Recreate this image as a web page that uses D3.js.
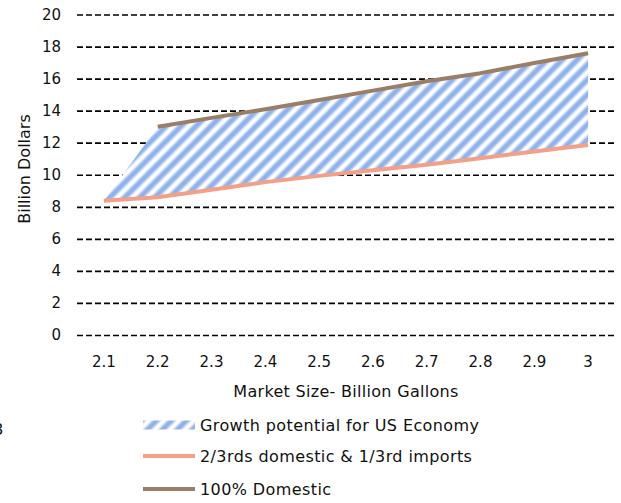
<!DOCTYPE html>
<html>
<head>
<meta charset="utf-8">
<script src="https://cdn.jsdelivr.net/npm/d3@7"></script>
<style>
  body { margin: 0; background: #fff; }
  svg text { font-family: "DejaVu Sans", Verdana, sans-serif; fill: #111; }
</style>
</head>
<body>
<svg id="chart" width="621" height="503"></svg>
<script>
// Market size in billion gallons (category axis)
const categories = ["2.1", "2.2", "2.3", "2.4", "2.5", "2.6", "2.7", "2.8", "2.9", "3"];
// Billion dollars, 2/3 domestic + 1/3 imported supply
const importMix = [8.38, 8.59, 9.07, 9.54, 9.93, 10.28, 10.63, 11.03, 11.45, 11.86];
// Billion dollars, all-domestic supply (no value at 2.1)
const domestic = [null, 13.0, 13.55, 14.09, 14.67, 15.25, 15.83, 16.34, 16.97, 17.58];
const yTicks = [0, 2, 4, 6, 8, 10, 12, 14, 16, 18, 20];
const seriesNames = ["Growth potential for US Economy", "2/3rds domestic & 1/3rd imports", "100% Domestic"];
const xTitle = "Market Size- Billion Gallons";
const yTitle = "Billion Dollars";

const colors = { hatch: "#8fb2ea", mix: "#f4a088", domestic: "#9b7e68" };

const svg = d3.select("#chart");
const plot = { left: 77, right: 615, top: 14.5, bottom: 335 };

const x = d3.scaleBand().domain(categories).range([plot.left, plot.right]);
const y = d3.scaleLinear().domain([0, 20]).range([plot.bottom, plot.top]);
const cx = c => x(c) + x.bandwidth() / 2;

// Diagonal hatch: soft-edged blue stripes on white
const defs = svg.append("defs");
const grad = defs.append("linearGradient").attr("id", "stripeGrad")
  .attr("x1", 0).attr("x2", 1).attr("y1", 0).attr("y2", 0);
[[0, "#ffffff"], [0.1, "#ffffff"], [0.36, colors.hatch], [0.62, colors.hatch], [0.9, "#ffffff"], [1, "#ffffff"]]
  .forEach(([o, c]) => grad.append("stop").attr("offset", o).attr("stop-color", c));
const pat = defs.append("pattern").attr("id", "hatch")
  .attr("patternUnits", "userSpaceOnUse")
  .attr("width", 10.6).attr("height", 10)
  .attr("patternTransform", "rotate(45)");
pat.append("rect").attr("width", 10.6).attr("height", 10).attr("fill", "url(#stripeGrad)");

// Value axis with dashed gridlines
const yAxis = d3.axisLeft(y).tickValues(yTicks)
  .tickSizeInner(-(plot.right - plot.left)).tickSizeOuter(0).tickPadding(16);
const gy = svg.append("g").attr("transform", `translate(${plot.left},0)`).call(yAxis);
gy.select(".domain").remove();
gy.selectAll(".tick line").attr("stroke", "#000").attr("stroke-width", 1.7).attr("stroke-dasharray", "6,3");
gy.selectAll(".tick text").style("font-size", "15px").attr("fill", "#111");

// Category axis (labels only)
const xAxis = d3.axisBottom(x).tickSize(0).tickPadding(21);
const gx = svg.append("g").attr("transform", `translate(0,${plot.bottom})`).call(xAxis);
gx.select(".domain").remove();
gx.selectAll(".tick text").style("font-size", "15px").attr("fill", "#111");

// Stacked area: transparent base (import mix) + growth gap up to all-domestic
const rows = categories.map((c, i) => ({
  cat: c,
  base: importMix[i],
  growth: domestic[i] == null ? 0 : domestic[i] - importMix[i]
}));
const stacked = d3.stack().keys(["base", "growth"])(rows);
const area = d3.area()
  .x(d => cx(d.data.cat))
  .y0(d => y(d[0]))
  .y1(d => y(d[1]));
svg.append("path").datum(stacked[1])
  .attr("d", area).attr("fill", "url(#hatch)");

// Lines
const line = d3.line()
  .defined(d => d.v != null)
  .x(d => cx(d.cat)).y(d => y(d.v));
svg.append("path")
  .datum(categories.map((c, i) => ({ cat: c, v: importMix[i] })))
  .attr("d", line).attr("fill", "none")
  .attr("stroke", colors.mix).attr("stroke-width", 4).attr("stroke-linejoin", "round");
svg.append("path")
  .datum(categories.map((c, i) => ({ cat: c, v: domestic[i] })))
  .attr("d", line).attr("fill", "none")
  .attr("stroke", colors.domestic).attr("stroke-width", 4).attr("stroke-linejoin", "round");

// Axis titles
svg.append("text").attr("x", (plot.left + plot.right) / 2).attr("y", 396.5)
  .attr("text-anchor", "middle").style("font-size", "16px").style("letter-spacing", "0.3px")
  .text(xTitle);
svg.append("text").attr("transform", "translate(29.5,169) rotate(-90)")
  .attr("text-anchor", "middle").style("font-size", "16px")
  .text(yTitle);

// Stray label clipped at the left edge
svg.append("text").attr("x", 3.5).attr("y", 435).attr("text-anchor", "end")
  .style("font-size", "16px").text("3");

// Legend
const lg = svg.append("g");
const lx0 = 143, lx1 = 195, tx = 200;
const rowsY = [425, 456, 489];
lg.append("rect").attr("x", lx0).attr("y", rowsY[0] - 4.5).attr("width", lx1 - lx0).attr("height", 9)
  .attr("fill", "url(#hatch)");
lg.append("line").attr("x1", lx0).attr("x2", lx1).attr("y1", rowsY[1]).attr("y2", rowsY[1])
  .attr("stroke", colors.mix).attr("stroke-width", 4);
lg.append("line").attr("x1", lx0).attr("x2", lx1).attr("y1", rowsY[2]).attr("y2", rowsY[2])
  .attr("stroke", colors.domestic).attr("stroke-width", 4);
seriesNames.forEach((n, i) => {
  lg.append("text").attr("x", tx).attr("y", rowsY[i]).attr("dy", "0.35em")
    .style("font-size", "16px").style("letter-spacing", "0.4px").text(n);
});
</script>
</body>
</html>
